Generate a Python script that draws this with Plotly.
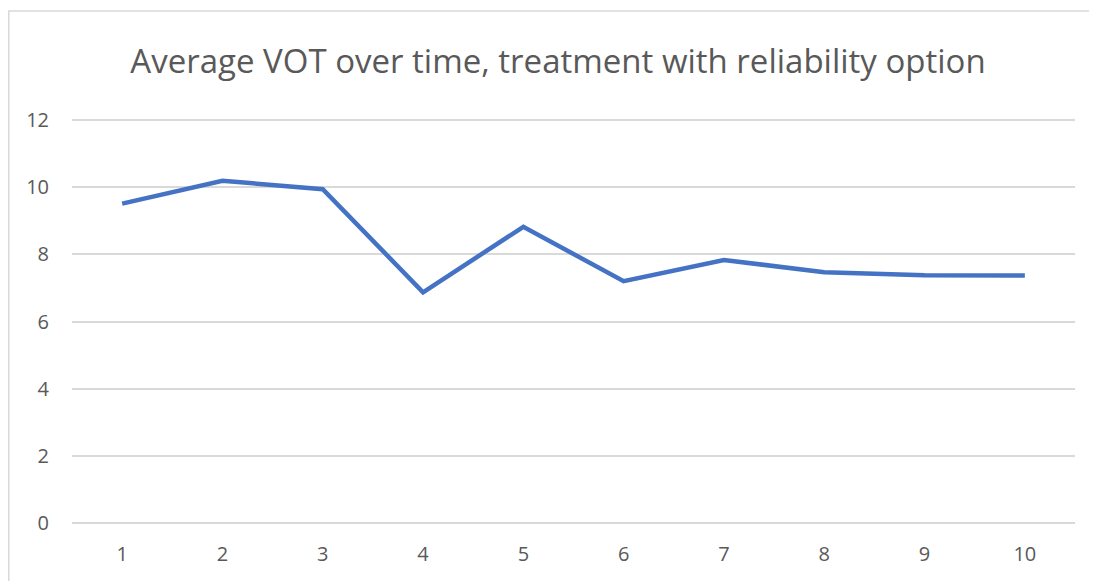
import plotly.graph_objects as go

periods = [1, 2, 3, 4, 5, 6, 7, 8, 9, 10]
avg_vot = [9.51, 10.19, 9.94, 6.87, 8.82, 7.20, 7.83, 7.47, 7.38, 7.37]
y_ticks = [0, 2, 4, 6, 8, 10, 12]
title_text = "Average VOT over time, treatment with reliability option"

fig = go.Figure()
fig.add_trace(go.Scatter(
    x=periods, y=avg_vot, mode="lines",
    line=dict(color="#4472C4", width=4.5),
    hoverinfo="x+y", showlegend=False,
))

# page has an 8px body margin; figure is sized to fit the window
OFF = 8
W, H = 1097 - OFF, 581 - OFF
L, R, T, B = 72 - OFF, 22, 118 - OFF, 56
pw, ph = W - L - R, H - T - B
YPAD = 0.06  # keeps the 0 and 12 gridlines inside the plot area

fig.update_layout(
    width=W, height=H,
    margin=dict(l=L, r=R, t=T, b=B),
    paper_bgcolor="white", plot_bgcolor="white",
    title=dict(text=title_text, x=(558 - OFF) / W, xanchor="center", y=1 - (61 - OFF) / H,
               yanchor="middle",
               font=dict(family="Open Sans", size=33, color="#595959")),
    font=dict(family="Open Sans", color="#595959", size=20),
    xaxis=dict(range=[0.5, 10.5], tickmode="array", tickvals=periods,
               ticktext=[str(p) for p in periods], showgrid=False, zeroline=False,
               showline=False, ticks="", ticklabelstandoff=15,
               tickfont=dict(family="Open Sans", size=20, color="#595959")),
    yaxis=dict(range=[-YPAD, 12 + YPAD], tickmode="array", tickvals=y_ticks,
               showgrid=True, gridcolor="#D9D9D9", gridwidth=1.5, zeroline=False,
               showline=False, ticks="", ticklabelstandoff=22,
               tickfont=dict(family="Open Sans", size=20, color="#595959")),
    shapes=[dict(type="rect", xref="paper", yref="paper",
                 x0=(0.8 - L) / pw, x1=(W + 5 - L) / pw,
                 y0=-(H + 5 - (H - B)) / ph, y1=((H - B) - (11 - OFF)) / ph,
                 line=dict(color="#D9D9D9", width=1.5), fillcolor="rgba(0,0,0,0)",
                 layer="below")],
)

fig.write_html("out.html")
